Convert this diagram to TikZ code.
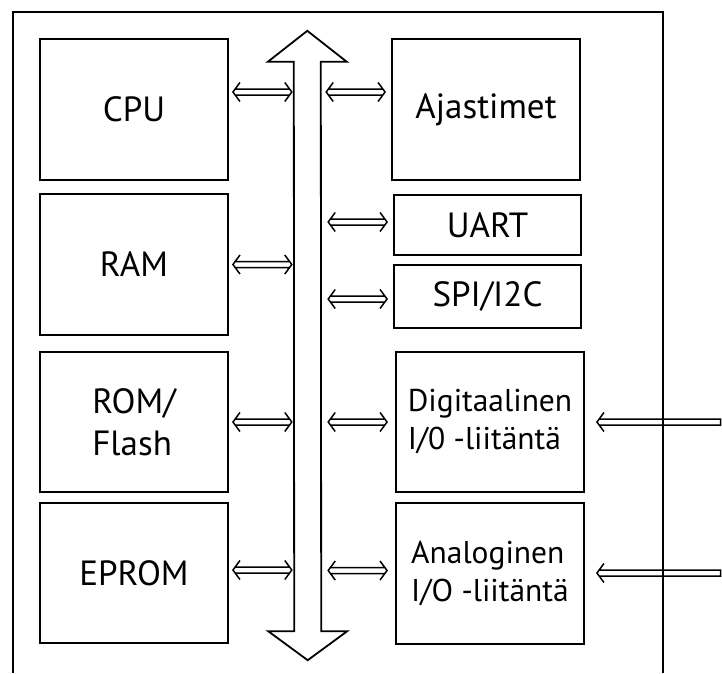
\documentclass[tikz,border=0pt]{standalone}
\usepackage{fontspec}
\setmainfont{PT Sans}
\usetikzlibrary{calc}
\begin{document}
\begin{tikzpicture}[x=1pt,y=-1pt,
  box/.style={draw, line width=1.9pt, inner sep=0pt, font=\fontsize{35}{42}\selectfont},
  smallbox/.style={box, font=\fontsize{31.5}{38}\selectfont, align=left},
  % hollow double-headed arrow (drawn left to right)
  link/.style={draw, line width=1.5pt, line join=miter, line cap=butt, to path={
    ($(\tikztostart)+(2.2,-3)$) -- ($(\tikztotarget)+(-2.2,-3)$)
    ($(\tikztostart)+(2.2,3)$) -- ($(\tikztotarget)+(-2.2,3)$)
    ($(\tikztostart)+(7,-9.5)$) -- (\tikztostart) -- ($(\tikztostart)+(7,9.5)$)
    ($(\tikztotarget)+(-7,-9.5)$) -- (\tikztotarget) -- ($(\tikztotarget)+(-7,9.5)$)}},
  % hollow arrow pointing left, closed at its start
  port/.style={draw, line width=1.5pt, line join=miter, line cap=butt, to path={
    ($(\tikztostart)+(0,-3)$) -- ($(\tikztotarget)+(2.2,-3)$)
    ($(\tikztostart)+(0,3)$) -- ($(\tikztotarget)+(2.2,3)$)
    ($(\tikztostart)+(0,-3.75)$) -- ($(\tikztostart)+(0,3.75)$)
    ($(\tikztotarget)+(7,-9.5)$) -- (\tikztotarget) -- ($(\tikztotarget)+(7,9.5)$)}},
  frame/.style={line width=1.8pt},
  busline/.style={line width=1.8pt, line join=miter}]
\useasboundingbox (0,0) rectangle (722,673);

% outer frame (open at the bottom)
\draw[frame] (13,673) -- (13,12) -- (663,12) -- (663,673);

% memory and processor blocks
\node[box, minimum width=188pt, minimum height=141pt] (cpu) at (134,109.5) {CPU};
\node[box, minimum width=188pt, minimum height=141pt] (ram) at (134,264.5) {RAM};
\node[box, minimum width=188pt, minimum height=140pt, align=left] (rom) at (134,422) {ROM/\\Flash};
\node[box, minimum width=188pt, minimum height=140pt] (eprom) at (134,573) {EPROM};

% peripheral blocks
\node[box, minimum width=188pt, minimum height=141pt] (tmr) at (486,109.5) {Ajastimet};
\node[box, minimum width=187pt, minimum height=60pt] (uart) at (487.5,225) {UART};
\node[box, minimum width=187pt, minimum height=63pt] (spi) at (487.5,296.5) {SPI/I2C};
\node[smallbox, minimum width=188pt, minimum height=140pt] (dig) at (490,422) {Digitaalinen\\I/0 -liitäntä};
\node[smallbox, minimum width=188pt, minimum height=141pt] (ana) at (490,573.5) {Analoginen\\I/O -liitäntä};

% system bus
\node[inner sep=0pt, minimum width=27pt, minimum height=569pt] (bus) at (307.5,346.5) {};
\draw[busline] (bus.north west) -- ++(-26,0) -- ++(39.5,-31) -- ++(39.5,31) -- ++(-26,0)
  -- (bus.south east) -- ++(26,0) -- ++(-39.5,29) -- ++(-39.5,-29) -- ++(26,0) -- cycle;

% bus connections, left side
\draw[link] ([xshift=4pt,yshift=17.5pt]cpu.east) to ([xshift=-2pt,yshift=17.5pt]cpu.east -| bus.west);
\draw[link] ([xshift=4pt]ram.east) to ([xshift=-2pt]ram.east -| bus.west);
\draw[link] ([xshift=4pt]rom.east) to ([xshift=-2pt]rom.east -| bus.west);
\draw[link] ([xshift=4pt,yshift=3pt]eprom.east) to ([xshift=-2pt,yshift=3pt]eprom.east -| bus.west);

% bus connections, right side
\draw[link] ([xshift=5pt,yshift=17.5pt]tmr.west -| bus.east) to ([xshift=-6pt,yshift=17.5pt]tmr.west);
\draw[link] ([xshift=7pt,yshift=3pt]uart.west -| bus.east) to ([xshift=-6pt,yshift=3pt]uart.west);
\draw[link] ([xshift=7pt,yshift=-2.5pt]spi.west -| bus.east) to ([xshift=-6pt,yshift=-2.5pt]spi.west);
\draw[link] ([xshift=7pt]dig.west -| bus.east) to ([xshift=-8pt]dig.west);
\draw[link] ([xshift=7pt,yshift=3pt]ana.west -| bus.east) to ([xshift=-8pt,yshift=3pt]ana.west);

% external ports
\coordinate (dport) at (720.5,422);
\coordinate (aport) at (720.5,573);
\draw[port] (dport) to ([xshift=12pt]dport -| dig.east);
\draw[port] (aport) to ([xshift=12pt]aport -| ana.east);
\end{tikzpicture}
\end{document}
